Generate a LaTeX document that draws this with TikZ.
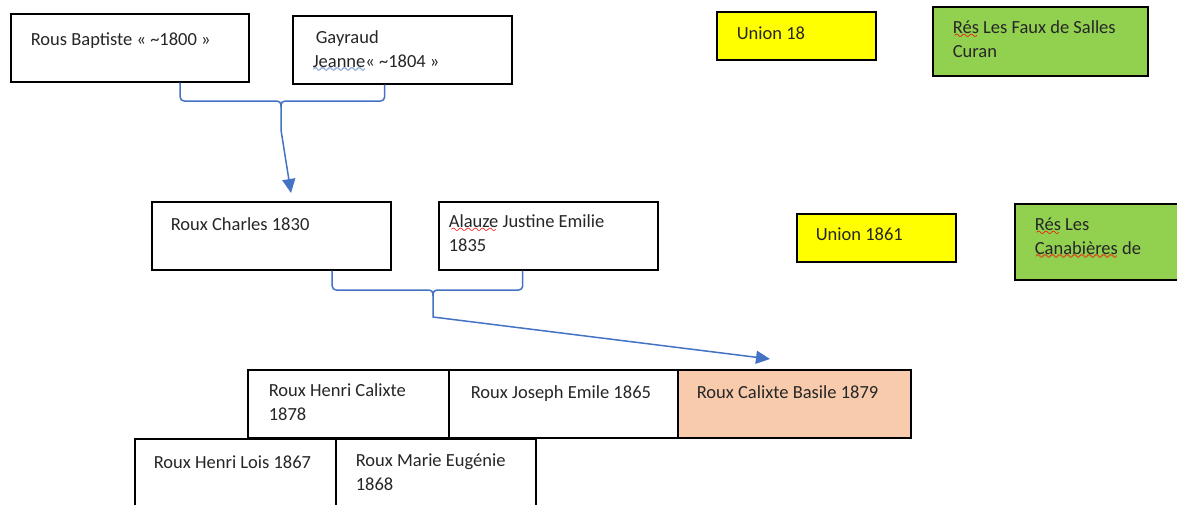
\documentclass[tikz,border=0pt]{standalone}
\usepackage{fontspec}
\setmainfont{Carlito}
\usetikzlibrary{calc,arrows.meta}
\definecolor{connblue}{HTML}{4472C4}
\definecolor{unionyellow}{HTML}{FFFF00}
\definecolor{resgreen}{HTML}{92D050}
\definecolor{peach}{HTML}{F8CBAD}
\definecolor{txt}{HTML}{262626}
\font\wavefont=lasy10 at 11pt
\newcommand\wavefill[1]{\lower#1\hbox to\wd0{\cleaders\hbox{\wavefont\char58}\hfil}}
\newcommand\wv[2]{\leavevmode\setbox0\hbox{#2}\rlap{\textcolor{#1}{\rlap{\wavefill{4.5pt}}\wavefill{5.1pt}}}\box0\relax}
\tikzset{
  box/.style={draw=black, line width=1.6pt, fill=white, text=txt,
    font=\fontsize{18.5}{23.5}\selectfont},
  conn/.style={draw=connblue, line width=1.5pt},
  tip/.style={-{Triangle[length=14pt,width=13pt]}}
}
% #1 name, #2 x, #3 y, #4 w, #5 h, #6 dx, #7 dy, #8 style, #9 text
\newcommand\bx[9]{%
  \node[box,#8,anchor=north west,inner sep=0pt] (#1) at (#2,#3)
    {\begin{minipage}[t][#5pt][t]{#4pt}\raggedright\leftskip=#6pt\rule{0pt}{#7pt}#9\end{minipage}};}
\begin{document}
\begin{tikzpicture}[x=1pt,y=-1pt]
\path[use as bounding box] (0,0) rectangle (1177,504);
\clip (0,0) rectangle (1177,504);
% generation 1
\bx{rb}{10}{13}{238}{68}{20}{32}{}{Rous Baptiste « \textasciitilde1800 »}
\bx{gj}{292}{15}{219}{68}{20}{28}{}{\hspace*{3pt}Gayraud\\\wv{connblue}{Jeanne}« \textasciitilde1804 »}
\bx{u18}{716}{11}{159}{48}{20}{28}{fill=unionyellow}{Union 18}
\bx{rf}{932}{6}{215}{69}{20}{27}{fill=resgreen}{\wv{red}{Rés} Les Faux de Salles\\Curan}
% generation 2
\bx{rc}{151}{201}{239}{68}{19}{29}{}{Roux Charles 1830}
\bx{aj}{438}{201}{219}{68}{10}{26}{}{\wv{red}{Alauze} Justine Emilie\\1835}
\bx{u61}{796}{213}{159}{48}{19}{27}{fill=unionyellow}{Union 1861}
\bx{rc2}{1014}{203}{180}{76}{20}{27}{fill=resgreen}{\wv{red}{Rés} Les\\\wv{red}{Canabières} de}
% generation 3
\bx{hc}{247}{369}{201}{68}{21}{27}{}{Roux Henri Calixte\\1878}
\bx{je}{448}{369}{229}{68}{22}{29}{}{Roux Joseph Emile 1865}
\bx{cb}{677}{369}{233}{68}{19}{29}{fill=peach}{Roux Calixte Basile 1879}
\bx{hl}{134}{438}{201}{80}{19}{30}{}{Roux Henri Lois 1867}
\bx{me}{335}{438}{200}{80}{20}{28}{}{Roux Marie Eugénie\\1868}
% connectors
\coordinate (b1l) at ($(rb.south west)!0.71!(rb.south east)$);
\coordinate (b1r) at ($(gj.south west)!0.42!(gj.south east)$);
\coordinate (m1) at (281,101);
\coordinate (s1) at (281,130);
\coordinate (t1) at ($(rc.north west)+(140,-8)$);
\draw[conn,rounded corners=4pt] (b1l) |- (m1) -- ++(0,6);
\draw[conn,rounded corners=4pt] (b1r) |- (m1) -- ++(0,6);
\draw[conn,tip] ($(m1)+(0,4)$) -- (s1) -- (t1);
\coordinate (b2l) at ($(rc.south west)!0.753!(rc.south east)$);
\coordinate (b2r) at ($(aj.south west)!0.384!(aj.south east)$);
\coordinate (m2) at (433,290);
\coordinate (s2) at (433,317);
\coordinate (t2) at ($(cb.north west)+(93,-10)$);
\draw[conn,rounded corners=4pt] (b2l) |- (m2) -- ++(0,6);
\draw[conn,rounded corners=4pt] (b2r) |- (m2) -- ++(0,6);
\draw[conn,tip] ($(m2)+(0,4)$) -- (s2) -- (t2);
\end{tikzpicture}
\end{document}
